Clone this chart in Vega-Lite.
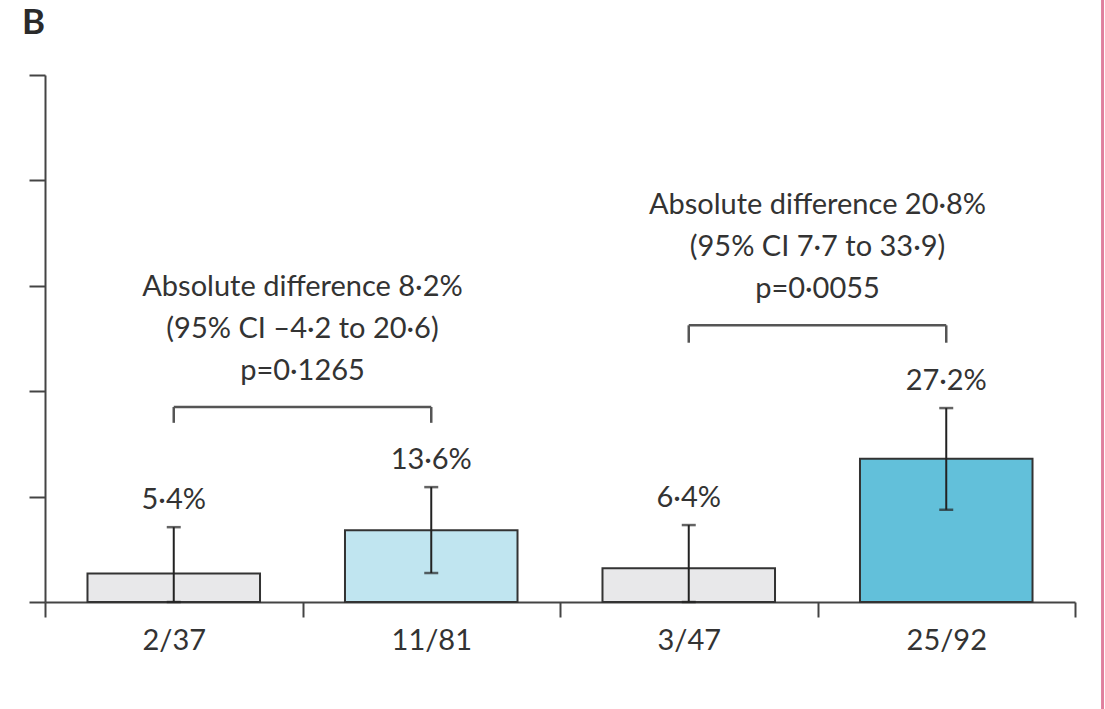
{
  "$schema": "https://vega.github.io/schema/vega-lite/v6.json",
  "width": 1030,
  "height": 527,
  "autosize": {"type": "none"},
  "padding": {"left": 45, "top": 75, "right": 30, "bottom": 107},
  "background": "white",
  "title": {"text": "B", "anchor": "start", "frame": "group", "fontSize": 35, "fontWeight": "bold", "font": "Lato", "color": "#2a2a2a", "dx": -23, "offset": -44},
  "config": {"view": {"stroke": null}, "font": "Lato"},
  "datasets": {
    "bars": [
      {"cat": "2/37", "group": "Control", "pct": 5.4, "lo": 0, "hi": 14.2, "label": "5·4%"},
      {"cat": "11/81", "group": "Treatment A", "pct": 13.6, "lo": 5.5, "hi": 21.8, "label": "13·6%"},
      {"cat": "3/47", "group": "Control", "pct": 6.4, "lo": 0, "hi": 14.6, "label": "6·4%"},
      {"cat": "25/92", "group": "Treatment B", "pct": 27.2, "lo": 17.5, "hi": 36.8, "label": "27·2%"}
    ],
    "comparisons": [
      {"from": "2/37", "to": "11/81", "top": 37, "leg": 34, "text": "Absolute difference 8·2%\n(95% CI –4·2 to 20·6)\np=0·1265"},
      {"from": "3/47", "to": "25/92", "top": 52.5, "leg": 49.2, "text": "Absolute difference 20·8%\n(95% CI 7·7 to 33·9)\np=0·0055"}
    ],
    "border": [
      {"edge": "page border"}
    ]
  },
  "layer": [
    {
      "data": {"name": "bars"},
      "mark": {"type": "bar", "width": {"band": 0.67}, "stroke": "#333333", "strokeWidth": 2},
      "encoding": {
        "x": {"field": "cat", "type": "nominal",
          "scale": {"domain": ["2/37", "11/81", "3/47", "25/92"], "paddingInner": 0, "paddingOuter": 0},
          "axis": {"title": null, "tickBand": "extent", "tickSize": 15, "labelFontSize": 29, "labelFont": "Lato", "labelColor": "#333333", "labelPadding": 9, "labelAngle": 0, "domainColor": "#444444", "domainWidth": 2, "tickColor": "#444444", "tickWidth": 2}},
        "y": {"field": "pct", "type": "quantitative", "scale": {"domain": [0, 100], "nice": false},
          "axis": {"title": null, "labels": false, "values": [0, 20, 40, 60, 80, 100], "tickSize": 16, "grid": false, "domainColor": "#444444", "domainWidth": 2, "tickColor": "#444444", "tickWidth": 2}},
        "color": {"field": "group", "type": "nominal", "scale": {"domain": ["Control", "Treatment A", "Treatment B"], "range": ["#e8e8ea", "#c0e5f0", "#62c0da"]}, "legend": null}
      }
    },
    {
      "data": {"name": "bars"},
      "mark": {"type": "rule", "strokeWidth": 2, "color": "#222222"},
      "encoding": {
        "x": {"field": "cat", "type": "nominal"},
        "y": {"field": "lo", "type": "quantitative"},
        "y2": {"field": "hi"}
      }
    },
    {
      "data": {"name": "bars"},
      "mark": {"type": "tick", "size": 14, "thickness": 2.5, "color": "#222222"},
      "encoding": {
        "x": {"field": "cat", "type": "nominal"},
        "y": {"field": "hi", "type": "quantitative"}
      }
    },
    {
      "data": {"name": "bars"},
      "mark": {"type": "tick", "size": 14, "thickness": 2.5, "color": "#222222"},
      "encoding": {
        "x": {"field": "cat", "type": "nominal"},
        "y": {"field": "lo", "type": "quantitative"}
      }
    },
    {
      "data": {"name": "bars"},
      "mark": {"type": "text", "baseline": "bottom", "dy": -12, "fontSize": 29, "font": "Lato", "color": "#333333"},
      "encoding": {
        "x": {"field": "cat", "type": "nominal"},
        "y": {"field": "hi", "type": "quantitative"},
        "text": {"field": "label"}
      }
    },
    {
      "data": {"name": "comparisons"},
      "mark": {"type": "rule", "strokeWidth": 2.5, "color": "#555555"},
      "encoding": {
        "x": {"field": "from", "type": "nominal"},
        "x2": {"field": "to"},
        "y": {"field": "top", "type": "quantitative"}
      }
    },
    {
      "data": {"name": "comparisons"},
      "mark": {"type": "rule", "strokeWidth": 2.5, "color": "#555555"},
      "encoding": {
        "x": {"field": "from", "type": "nominal"},
        "y": {"field": "top", "type": "quantitative"},
        "y2": {"field": "leg"}
      }
    },
    {
      "data": {"name": "comparisons"},
      "mark": {"type": "rule", "strokeWidth": 2.5, "color": "#555555"},
      "encoding": {
        "x": {"field": "to", "type": "nominal"},
        "y": {"field": "top", "type": "quantitative"},
        "y2": {"field": "leg"}
      }
    },
    {
      "data": {"name": "comparisons"},
      "mark": {"type": "text", "baseline": "bottom", "dy": -105, "dx": 128.75, "fontSize": 29, "font": "Lato", "color": "#333333", "lineBreak": "\n", "lineHeight": 42},
      "encoding": {
        "x": {"field": "from", "type": "nominal"},
        "y": {"field": "top", "type": "quantitative"},
        "text": {"field": "text"}
      }
    },
    {
      "data": {"name": "border"},
      "mark": {"type": "rule", "strokeWidth": 3, "color": "#e0809e"},
      "encoding": {
        "x": {"datum": "25/92", "type": "nominal", "bandPosition": 1.107},
        "y": {"datum": 114.5, "type": "quantitative"},
        "y2": {"datum": -20.5}
      }
    }
  ]
}
